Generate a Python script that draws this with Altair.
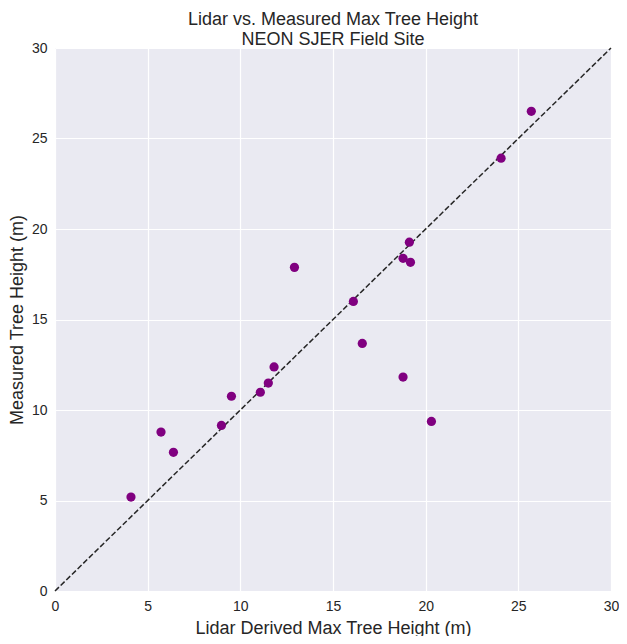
import altair as alt
import pandas as pd

lidar = [4.10, 5.72, 6.39, 8.98, 9.52, 11.08, 11.51, 11.82, 12.92, 16.10,
         16.58, 18.78, 18.78, 19.12, 19.18, 20.31, 24.07, 25.70]
measured = [5.19, 8.78, 7.66, 9.15, 10.76, 10.98, 11.49, 12.38, 17.88, 16.00,
            13.68, 11.82, 18.38, 19.27, 18.16, 9.37, 23.91, 26.50]
line_x = [0, 30]
line_y = [0, 30]
ticks = [0, 5, 10, 15, 20, 25, 30]

pts = pd.DataFrame({"lidar": lidar, "measured": measured})
ref = pd.DataFrame({"lidar": line_x, "measured": line_y})

xscale = alt.Scale(domain=[0, 30], nice=False, zero=False)
yscale = alt.Scale(domain=[0, 30], nice=False, zero=False)

xaxis = alt.Axis(title="Lidar Derived Max Tree Height (m)", values=ticks, labelFlush=False)
yaxis = alt.Axis(title="Measured Tree Height (m)", values=ticks, labelFlush=False)

line = alt.Chart(ref).mark_line(color="#262626", strokeWidth=1.5, strokeDash=[5.5, 2.4]).encode(
    x=alt.X("lidar:Q", scale=xscale, axis=xaxis),
    y=alt.Y("measured:Q", scale=yscale, axis=yaxis),
)

points = alt.Chart(pts).mark_circle(color="#800080", size=85, opacity=1).encode(
    x=alt.X("lidar:Q", scale=xscale, axis=xaxis),
    y=alt.Y("measured:Q", scale=yscale, axis=yaxis),
)

chart = (line + points).properties(
    width=556,
    height=543,
    title=alt.TitleParams(
        text=["Lidar vs. Measured Max Tree Height", "NEON SJER Field Site"],
        fontSize=18,
        fontWeight="normal",
        font="Liberation Sans",
        color="#262626",
        anchor="middle",
        offset=-8,
        lineHeight=20,
    ),
    autosize=alt.AutoSizeParams(type="none"),
    padding={"left": 47, "top": 40, "right": 8, "bottom": 45},
).configure_view(
    fill="#EAEAF2", stroke=None
).configure_axis(
    domain=False,
    ticks=False,
    grid=True,
    gridColor="white",
    gridWidth=1.2,
    labelFont="Liberation Sans",
    labelFontSize=14,
    labelColor="#262626",
    labelPadding=8,
    titleFont="Liberation Sans",
    titleFontSize=18,
    titleFontWeight="normal",
    titleColor="#262626",
).configure_axisX(titlePadding=6).configure_axisY(titlePadding=5)

chart.save("out.html", embed_options={"renderer": "svg", "actions": False})
